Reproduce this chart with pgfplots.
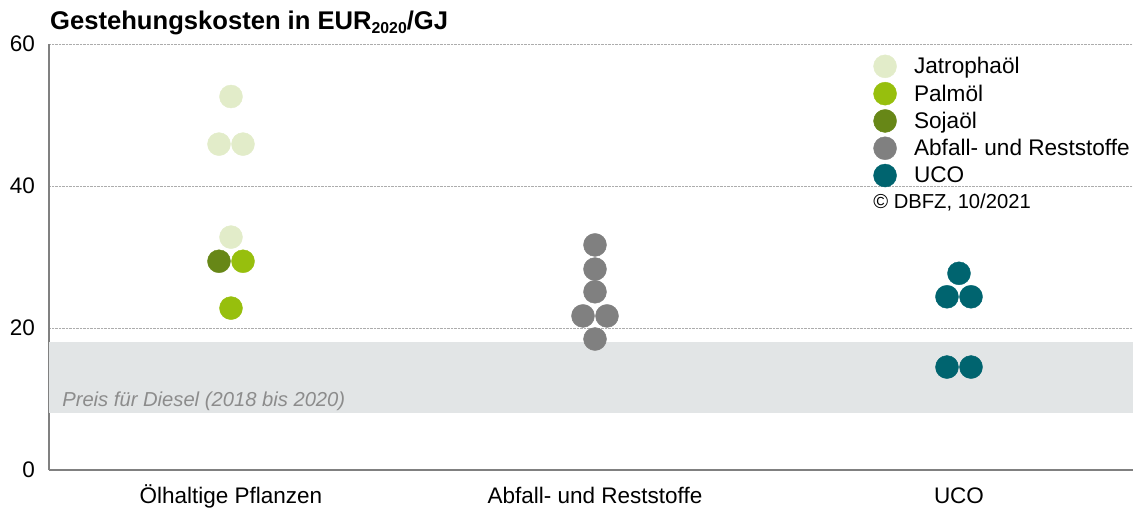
\documentclass[border=0pt]{standalone}
\usepackage{fontspec}
\setmainfont{Liberation Sans}
\usepackage{pgfplots}
\pgfplotsset{compat=1.18}
\definecolor{jat}{HTML}{E2ECC9}
\definecolor{palm}{HTML}{97BF0D}
\definecolor{soja}{HTML}{678717}
\definecolor{abf}{HTML}{808080}
\definecolor{uco}{HTML}{00646F}
\definecolor{band}{HTML}{E2E5E6}
\begin{document}
\begin{tikzpicture}[x=1pt,y=1pt]
\useasboundingbox (-49,-39) rectangle (1084,470);
\begin{axis}[
  at={(0,0)}, anchor=south west,
  scale only axis, width=1084pt, height=426pt,
  xmin=-0.5, xmax=2.478, ymin=0, ymax=60,
  axis x line*=bottom, axis y line*=left,
  axis line style={-, draw=abf, line width=1.6pt},
  major tick length=0pt,
  ytick={0,20,40,60},
  /pgf/number format/assume math mode=true,
  ymajorgrids, grid style={densely dotted, draw=gray!65, line width=0.9pt},
  xtick={0,1,2},
  xticklabels={Ölhaltige Pflanzen, Abfall- und Reststoffe, UCO},
  tick label style={font=\fontsize{22.5}{27}\selectfont},
  xticklabel style={anchor=base, inner sep=0pt, yshift=-33pt},
  yticklabel style={anchor=east, inner sep=0pt, xshift=-14pt},
  legend image code/.code={\draw[#1] plot coordinates {(11.5pt,0pt)};},
  legend style={at={(rel axis cs:0.7605,0.975)}, anchor=north west,
     draw=none, fill=none, inner sep=0pt, row sep=4.3pt,
     font=\fontsize{22.6}{27}\selectfont,
     nodes={inner sep=0pt},
     /tikz/every odd column/.append style={column sep=17.5pt}},
  legend cell align=left,
  dot/.style={only marks, mark=*, mark size=11.5pt, color=#1, mark options={draw=none, fill=#1}},
]
\addplot[draw=none, fill=band, forget plot, mark=none] coordinates {(-0.5,8) (2.478,8) (2.478,18) (-0.5,18)} -- cycle;
\addplot[dot=jat] coordinates {
 (0,52.6) (-0.033,45.9) (0.033,45.9) (0,32.8)};
\addlegendentry{Jatrophaöl}
\addplot[dot=palm] coordinates {
 (0.033,29.4) (0,22.8)};
\addlegendentry{Palmöl}
\addplot[dot=soja] coordinates {
 (-0.033,29.4)};
\addlegendentry{Sojaöl}
\addplot[dot=abf] coordinates {
 (1,31.7) (1,28.3) (1,25.1) (0.967,21.7) (1.033,21.7) (1,18.45)};
\addlegendentry{Abfall- und Reststoffe}
\addplot[dot=uco] coordinates {
 (2,27.7) (1.967,24.4) (2.033,24.4) (1.967,14.5) (2.033,14.5)};
\addlegendentry{UCO}
\node[anchor=base west, inner sep=0pt, text=gray!90, font=\itshape\fontsize{20.2}{24}\selectfont] at (axis cs:-0.464,8.9) {Preis für Diesel (2018 bis 2020)};
\node[anchor=west, inner sep=0pt, font=\fontsize{20.2}{24}\selectfont] at (axis cs:1.764,37.7) {© DBFZ, 10/2021};
\end{axis}
\node[anchor=base west, inner sep=0pt, font=\bfseries\fontsize{25.6}{30}\selectfont] at (1,440) {Gestehungskosten in EUR\raisebox{-4pt}{\fontsize{15.8}{18}\selectfont 2020}/GJ};
\end{tikzpicture}
\end{document}
